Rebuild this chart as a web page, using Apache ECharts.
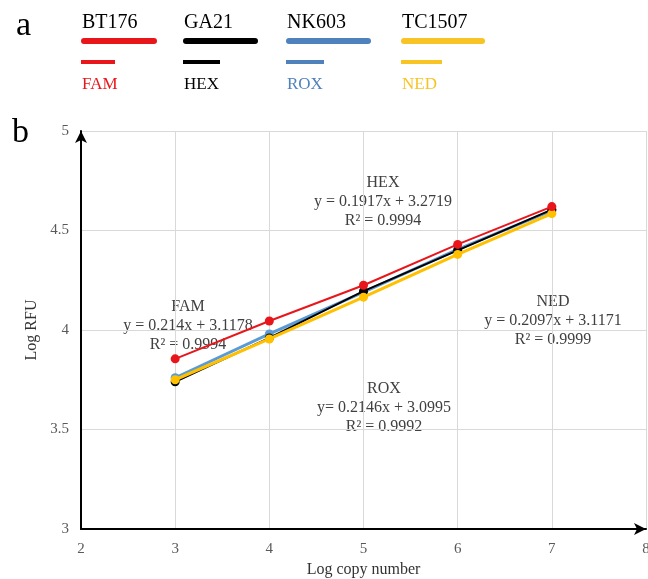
<!DOCTYPE html>
<html>
<head>
<meta charset="utf-8">
<script src="https://cdn.jsdelivr.net/npm/echarts@6/dist/echarts.min.js"></script>
<style>
  html, body { margin: 0; padding: 0; background: #fff; }
  #chart { width: 648px; height: 579px; }
</style>
</head>
<body>
<div id="chart"></div>
<script>
// panel a: cultivar / dye key
const cultivars = ['BT176', 'GA21', 'NK603', 'TC1507']
const dyes = ['FAM', 'HEX', 'ROX', 'NED']
const keyColors = ['#e8161b', '#000000', '#4f81bd', '#f7c325']

// panel b: standard curves (log copy number vs log RFU)
const logCopies = [3, 4, 5, 6, 7]
const famValues = [3.855, 4.045, 4.225, 4.43, 4.62]
const hexValues = [3.74, 3.96, 4.195, 4.40, 4.605]
const roxValues = [3.76, 3.98, 4.19, 4.405, 4.60]
const nedValues = [3.75, 3.955, 4.165, 4.38, 4.585]
const lineColors = { FAM: '#e8161b', HEX: '#000000', ROX: '#5b9bd5', NED: '#ffc000' }

const fits = {
  FAM: ['y = 0.214x + 3.1178', 'R² = 0.9994'],
  HEX: ['y = 0.1917x + 3.2719', 'R² = 0.9994'],
  ROX: ['y= 0.2146x + 3.0995', 'R² = 0.9992'],
  NED: ['y = 0.2097x + 3.1171', 'R² = 0.9999'],
}

const FONT = '"Liberation Serif", "Times New Roman", serif'

const chart = echarts.init(document.getElementById('chart'))

const keyX = [81, 183, 286, 401]
const keyBarEnd = [157, 258, 371, 485]
const keyLineEnd = [115, 220, 324, 442]

const keyGraphics = []
cultivars.forEach((name, i) => {
  keyGraphics.push({
    type: 'text', left: keyX[i] + 1, top: 13,
    style: { text: name, fill: '#000', font: `20px ${FONT}` },
  })
  keyGraphics.push({
    type: 'line',
    shape: { x1: keyX[i] + 3, y1: 41, x2: keyBarEnd[i] - 3, y2: 41 },
    style: { stroke: keyColors[i], lineWidth: 6, lineCap: 'round' },
  })
  keyGraphics.push({
    type: 'line',
    shape: { x1: keyX[i], y1: 62, x2: keyLineEnd[i], y2: 62 },
    style: { stroke: keyColors[i], lineWidth: 4 },
  })
  keyGraphics.push({
    type: 'text', left: keyX[i] + 1, top: 76,
    style: { text: dyes[i], fill: keyColors[i], font: `17px ${FONT}` },
  })
})

// regression annotations (centre of each text block, px)
const notePos = { FAM: [188, 326], HEX: [383, 202], ROX: [384, 408], NED: [553, 321] }
const noteGraphics = Object.keys(fits).map(k => ({
  type: 'text',
  x: notePos[k][0], y: notePos[k][1],
  style: {
    text: [k, ...fits[k]].join('\n'),
    fill: '#404040', font: `16px ${FONT}`,
    align: 'center', verticalAlign: 'middle', lineHeight: 19,
  },
}))

function series(name, values, width, z) {
  return {
    name, type: 'line', z,
    data: logCopies.map((x, i) => [x, values[i]]),
    symbol: 'circle', symbolSize: 9,
    lineStyle: { color: lineColors[name], width },
    itemStyle: { color: lineColors[name] },
  }
}

const axisLabel = { color: '#595959', fontSize: 15, fontFamily: FONT }

chart.setOption({
  animation: false,
  textStyle: { fontFamily: FONT },
  grid: { left: 81, right: 2, top: 131, bottom: 50, outerBoundsMode: 'none', containLabel: false },
  xAxis: {
    type: 'value', min: 2, max: 8, interval: 1,
    name: 'Log copy number', nameLocation: 'middle', nameGap: 31,
    nameTextStyle: { color: '#333', fontSize: 16, fontFamily: FONT },
    axisLine: { lineStyle: { color: '#000', width: 2 }, symbol: ['none', 'arrow'], symbolSize: [9, 12] },
    axisTick: { show: false },
    axisLabel: { ...axisLabel, margin: 13 },
    splitLine: { lineStyle: { color: '#d9d9d9' } },
  },
  yAxis: {
    type: 'value', min: 3, max: 5, interval: 0.5,
    name: 'Log RFU', nameLocation: 'middle', nameGap: 36,
    nameTextStyle: { color: '#333', fontSize: 16, fontFamily: FONT },
    axisLine: { lineStyle: { color: '#000', width: 2 }, symbol: ['none', 'arrow'], symbolSize: [9, 12] },
    axisTick: { show: false },
    axisLabel: { ...axisLabel, margin: 12 },
    splitLine: { lineStyle: { color: '#d9d9d9' } },
  },
  series: [
    series('ROX', roxValues, 3, 2),
    series('HEX', hexValues, 2, 3),
    series('NED', nedValues, 3, 4),
    series('FAM', famValues, 2, 5),
  ],
  graphic: [
    { type: 'text', left: 16, top: 9, style: { text: 'a', fill: '#000', font: `34px ${FONT}` } },
    { type: 'text', left: 12, top: 116, style: { text: 'b', fill: '#000', font: `34px ${FONT}` } },
    ...keyGraphics,
    ...noteGraphics,
  ],
})
</script>
</body>
</html>
